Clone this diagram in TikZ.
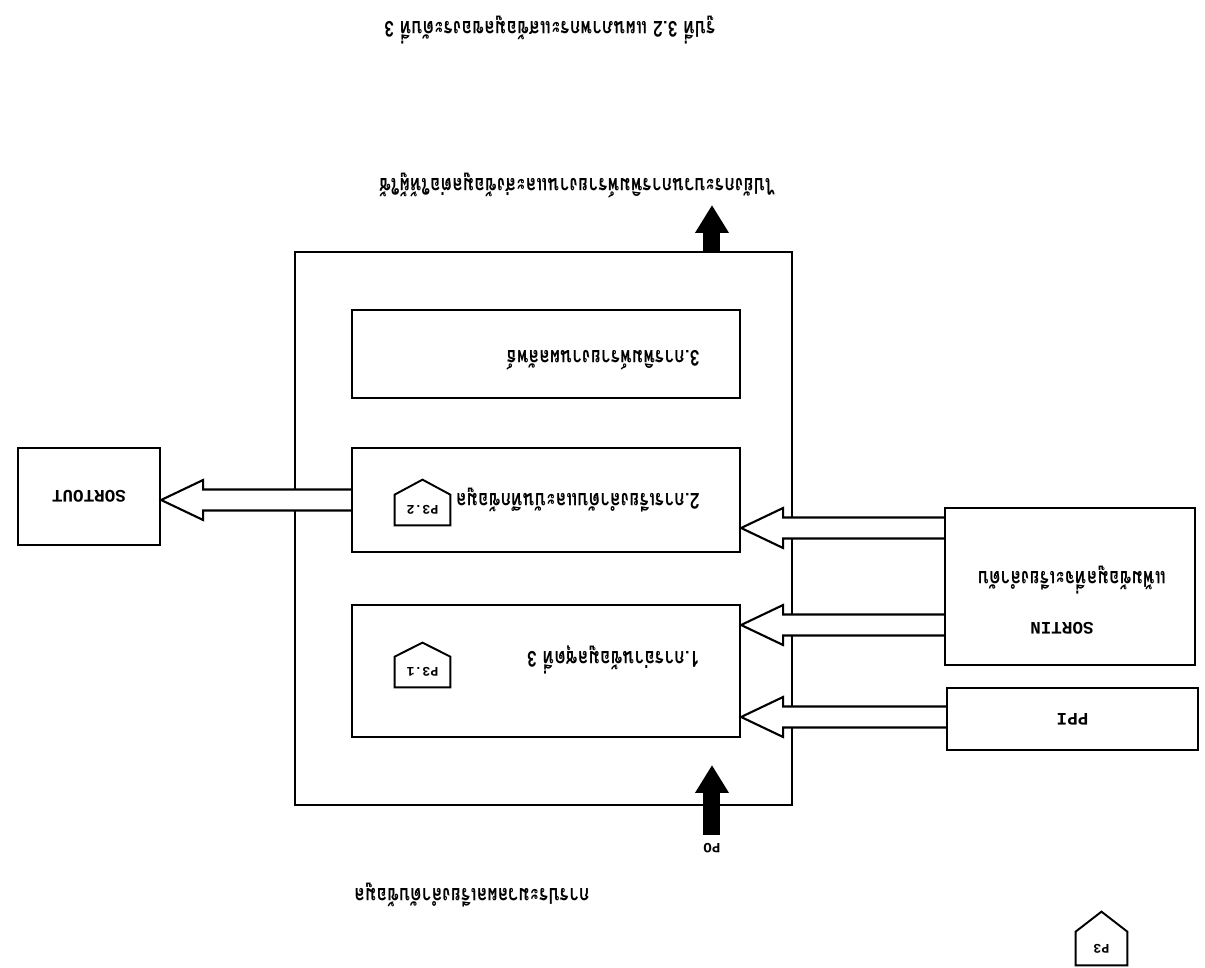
\documentclass[tikz,border=0pt]{standalone}
\usepackage{fontspec}
\setmonofont{Liberation Mono}
\newfontfamily\thaifont[Script=Thai, FakeStretch=0.8]{Loma}
\usetikzlibrary{arrows.meta,calc,positioning}
\tikzset{
  procbox/.style={
    rectangle,
    draw=black,
    line width=1.3pt,
    minimum width=7.76cm,
    inner sep=0pt
  },
  filebox/.style={
    rectangle,
    draw=black,
    line width=1.3pt,
    align=center,
    inner sep=0pt,
    font=\ttfamily\bfseries\fontsize{10}{12}\selectfont
  },
  idbox/.style={
    rectangle,
    inner sep=0pt,
    font=\ttfamily\bfseries\fontsize{7.5}{9}\selectfont
  },
  idline/.style={draw=black, line width=1.1pt},
  thaitext/.style={
    inner sep=0pt,
    font=\thaifont\bfseries\fontsize{12.5}{14}\selectfont
  },
  flowarrow/.style={
    draw=black,
    line width=0.34cm,
    -{Triangle[length=0.56cm,width=0.64cm]}
  },
  datarrow/.style={
    draw=black,
    line width=1.2pt,
    fill=white,
    line join=miter
  }
}
% hollow data arrow, from #1 to the tip #2
\newcommand{\dataflow}[2]{%
  \draw[datarrow] ($(#1)+(0,-10.5)$) -- ($(#2)+(-42,-10.5)$) -- ($(#2)+(-42,-20)$)
    -- (#2) -- ($(#2)+(-42,20)$) -- ($(#2)+(-42,10.5)$) -- ($(#1)+(0,10.5)$);}

\begin{document}
\begin{tikzpicture}[x=0.02cm, y=-0.02cm, rotate=180, transform shape]
\useasboundingbox (0,0) rectangle (1205,968);

% process P3
\node[idbox, minimum width=1.02cm, minimum height=0.66cm] (p3id) at (103.5,19.5) {P3};
\draw[idline] (p3id.south west) -- (p3id.north west) -- (p3id.north east) -- (p3id.south east) -- ($(p3id.south)+(0,20)$) -- cycle;
\node[thaitext] (p3title) at (733,73) {การประมวลผลเรียงลำดับข้อมูล};

\node[filebox, draw=none, inner sep=2pt, font=\ttfamily\bfseries\fontsize{8}{9}\selectfont] (po) at (493,120) {PO};
\node[procbox, minimum width=9.94cm, minimum height=11.06cm] (p3) at (661.5,439.5) {};
\coordinate (potip) at (493,203);
\draw[flowarrow, shorten <=2pt] (po) -- (potip);

% sub processes
\node[procbox, minimum height=2.64cm] (sub1) at (659,297) {};
\node[thaitext, anchor=west] (sub1txt) at (505,308) {1.การอ่านข้อมูลชุดที่ 3};
\node[idbox, minimum width=1.1cm, minimum height=0.6cm] (id1) at (782.5,296) {P3.1};
\draw[idline] (id1.south west) -- (id1.north west) -- (id1.north east) -- (id1.south east) -- ($(id1.south)+(0,14)$) -- cycle;

\node[procbox, minimum height=2.08cm] (sub2) at (659,468) {};
\node[thaitext, anchor=west] (sub2txt) at (505,468) {2.การเรียงลำดับและบันทึกข้อมูล};
\node[idbox, minimum width=1.1cm, minimum height=0.6cm] (id2) at (782.5,458) {P3.2};
\draw[idline] (id2.south west) -- (id2.north west) -- (id2.north east) -- (id2.south east) -- ($(id2.south)+(0,15)$) -- cycle;

\node[procbox, minimum height=1.76cm] (sub3) at (659,614) {};
\node[thaitext, anchor=west] (sub3txt) at (505,608) {3.การพิมพ์รายงานผลลัพธ์};

% files
\node[filebox, minimum width=5cm, minimum height=3.14cm] (sortin) at (135,381.5) {};
\node[filebox, draw=none] (sortinname) at (143,340) {SORTIN};
\node[thaitext] (sortindesc) at (133,388) {แฟ้มข้อมูลที่จะเรียงลำดับ};
\node[filebox, minimum width=5.02cm, minimum height=1.24cm] (ppi) at (132.5,249) {PPI};
\node[filebox, minimum width=2.84cm, minimum height=1.94cm] (sortout) at (1116,471.5) {SORTOUT};

% data flows
\coordinate (a1) at (ppi.east |- 0,251);
\coordinate (b1) at (sub1.west |- 0,251);
\coordinate (a2) at (sortin.east |- 0,343);
\coordinate (b2) at (sub1.west |- 0,343);
\coordinate (a3) at (sortin.east |- 0,440);
\coordinate (b3) at (sub2.west |- 0,440);
\coordinate (a4) at (sub2.east |- 0,468);
\coordinate (b4) at (sortout.west |- 0,468);
\dataflow{a1}{b1}
\dataflow{a2}{b2}
\dataflow{a3}{b3}
\dataflow{a4}{b4}

% output
\coordinate (outtip) at (493,763);
\draw[flowarrow] (p3.south -| outtip) -- (outtip);
\node[thaitext] (outtxt) at (628,783) {ไปยังกระบวนการพิมพ์รายงานและส่งข้อมูลต่อให้ผู้ใช้};

\node[thaitext] (caption) at (655,938) {รูปที่ 3.2 แผนภาพกระแสข้อมูลของระดับที่ 3};
\end{tikzpicture}
\end{document}
